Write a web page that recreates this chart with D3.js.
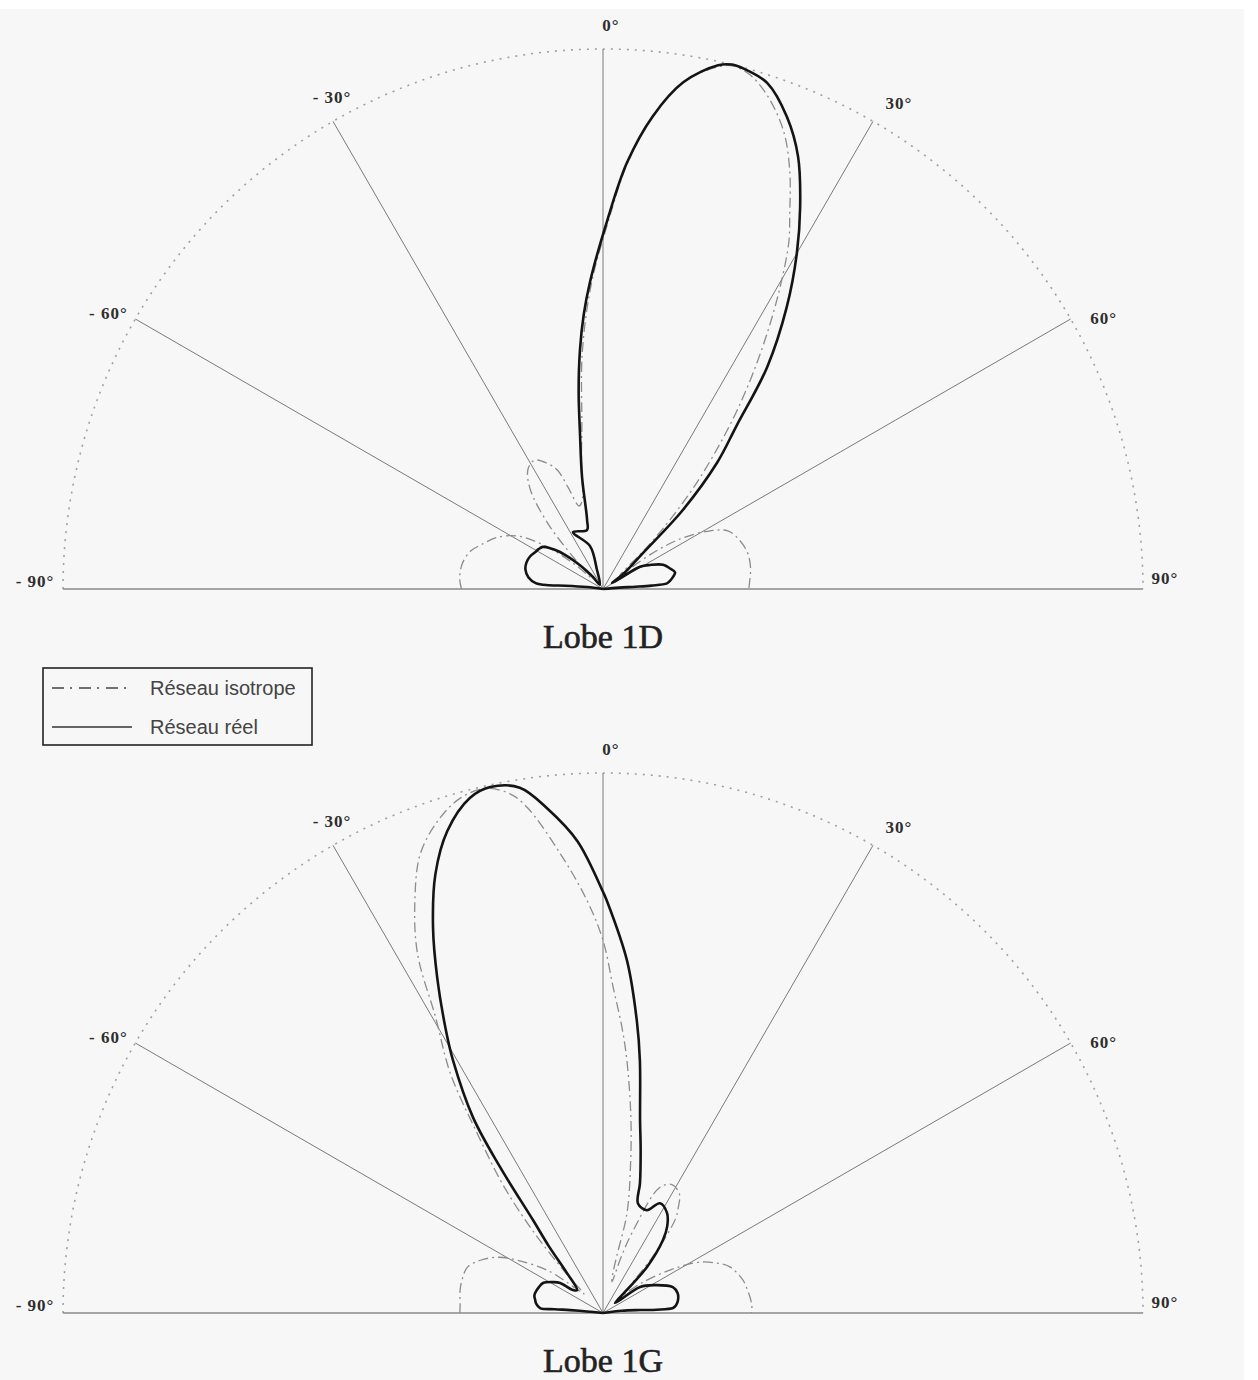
<!DOCTYPE html>
<html>
<head>
<meta charset="utf-8">
<script src="https://cdn.jsdelivr.net/npm/d3@7"></script>
<style>
  body { margin: 0; background: #ffffff; }
  svg { display: block; }
</style>
</head>
<body>
<svg id="chart" width="1258" height="1380"></svg>
<script>
// Angular grid (degrees, 0 = broadside, positive to the right)
const angleTicks = [-90, -60, -30, 0, 30, 60, 90];
const tickLabels = ["- 90°", "- 60°", "- 30°", "0°", "30°", "60°", "90°"];

const panelTitles = ["Lobe 1D", "Lobe 1G"];
const seriesNames = ["Réseau isotrope", "Réseau réel"];

// Normalised radiation patterns: [angle in degrees, relative amplitude]
const lobe1D_isotrope = [
  [-90, 0.262], [-86, 0.266], [-80, 0.265], [-74, 0.255], [-70, 0.24], [-64, 0.218],
  [-58, 0.185], [-53, 0.13], [-49, 0.07], [-46, 0.03], [-43, 0.08], [-40, 0.16],
  [-36, 0.23], [-32, 0.262], [-28, 0.27], [-24, 0.255], [-21, 0.236], [-19, 0.2],
  [-16, 0.16], [-13, 0.17], [-10, 0.23], [-7.5, 0.3], [-5, 0.44], [-2.2, 0.565],
  [0.8, 0.68], [3.3, 0.79], [6, 0.88], [9, 0.95], [12.4, 0.99], [14, 0.998],
  [16, 0.99], [18.5, 0.962], [21.5, 0.912], [24, 0.85], [26.5, 0.775], [28.2, 0.728],
  [30.4, 0.648], [32.5, 0.57], [34.8, 0.487], [37, 0.41], [39, 0.34], [41.5, 0.26],
  [44, 0.18], [46.5, 0.11], [49, 0.05], [51, 0.04], [54, 0.11], [57, 0.17],
  [61, 0.22], [65, 0.255], [70, 0.268], [76, 0.276], [82, 0.276], [87, 0.272], [90, 0.27]
];

const lobe1D_reel = [
  [-80, 0], [-83, 0.03], [-85, 0.07], [-86, 0.1], [-85, 0.125], [-81, 0.14],
  [-76, 0.148], [-71, 0.15], [-66, 0.148], [-61.5, 0.143], [-58, 0.14], [-55, 0.136],
  [-52, 0.122], [-49.3, 0.105], [-47, 0.085], [-45, 0.068], [-42, 0.045], [-40, 0.029],
  [-36, 0.01], [-17.5, 0.037], [-16.8, 0.083], [-27.8, 0.119], [-15.2, 0.113],
  [-13, 0.131], [-10.6, 0.211], [-8.4, 0.292], [-7, 0.37], [-5.5, 0.445], [-4, 0.51],
  [-2.4, 0.57], [0.6, 0.68], [3.2, 0.79], [6, 0.88], [9, 0.95], [12.4, 0.993],
  [13.8, 1.0], [15.2, 0.998], [18, 0.985], [21.3, 0.938], [24.3, 0.878], [27.3, 0.796],
  [30, 0.718], [33.1, 0.623], [36.5, 0.511], [39.3, 0.39], [42.1, 0.315], [45.3, 0.208],
  [48, 0.1], [53, 0.05], [56, 0.02], [58, 0.04], [59, 0.08], [63, 0.098], [68, 0.12],
  [73, 0.13], [77, 0.137], [80, 0.132], [83, 0.125], [85, 0.119], [86, 0.09],
  [86, 0.06], [85, 0.03], [83, 0]
];

const lobe1G_isotrope = [
  [-90, 0.265], [-87, 0.265], [-81, 0.268], [-76, 0.268], [-71.3, 0.265], [-66.7, 0.247],
  [-62, 0.22], [-58.4, 0.187], [-52.5, 0.13], [-48, 0.07], [-45, 0.05], [-43, 0.1],
  [-40.5, 0.2], [-38, 0.3], [-35, 0.406], [-32.5, 0.526], [-29.5, 0.63], [-27.3, 0.749],
  [-24.5, 0.84], [-21.7, 0.915], [-18.5, 0.962], [-15.4, 0.99], [-12.5, 0.995],
  [-10.1, 0.976], [-8.5, 0.946], [-5.3, 0.854], [-2.2, 0.764], [0, 0.69], [1.8, 0.603],
  [3.8, 0.53], [5.4, 0.47], [8, 0.37], [10.5, 0.28], [13.5, 0.19], [13.6, 0.11],
  [14, 0.076], [16, 0.06], [18, 0.11], [20, 0.16], [24.3, 0.255], [28.3, 0.27],
  [32.7, 0.262], [35.5, 0.24], [37.6, 0.22], [41, 0.15], [44, 0.08], [47, 0.05],
  [52, 0.09], [57.3, 0.147], [62, 0.2], [66.3, 0.23], [70, 0.25], [76.7, 0.266],
  [82, 0.272], [87, 0.276], [90, 0.275]
];

const lobe1G_reel = [
  [-83, 0], [-84.5, 0.03], [-85, 0.061], [-85.5, 0.09], [-85.5, 0.117], [-82, 0.125],
  [-79, 0.128], [-76, 0.131], [-73.6, 0.131], [-68, 0.128], [-63.4, 0.124], [-58, 0.108],
  [-55, 0.097], [-52.5, 0.07], [-48.5, 0.064], [-42, 0.1], [-39, 0.16], [-37, 0.215],
  [-35.2, 0.33], [-33.6, 0.435], [-30.7, 0.544], [-28.9, 0.604], [-26.3, 0.693],
  [-23.8, 0.78], [-20.9, 0.87], [-17.9, 0.938], [-14.5, 0.985], [-12.1, 0.996],
  [-9, 0.985], [-6.3, 0.94], [-3.1, 0.875], [0, 0.78], [0.55, 0.763], [3.9, 0.654],
  [6.6, 0.545], [8.3, 0.473], [10.9, 0.363], [13, 0.31], [15.9, 0.25], [17.7, 0.213],
  [23.1, 0.207], [27.4, 0.229], [32.6, 0.22], [36.5, 0.2], [39.4, 0.175], [43.7, 0.118],
  [46, 0.061], [50, 0.029], [52.6, 0.04], [54.9, 0.084], [61.7, 0.109], [69.6, 0.138],
  [75, 0.143], [80.2, 0.141], [84, 0.136], [85.9, 0.13], [86.5, 0.1], [85.4, 0.069],
  [83, 0.035], [80, 0]
];

// ---- layout ----
const W = 1258, H = 1380, R = 540;
const panels = [
  { cx: 603, cy: 589,  title: panelTitles[0], iso: lobe1D_isotrope, reel: lobe1D_reel },
  { cx: 603, cy: 1313, title: panelTitles[1], iso: lobe1G_isotrope, reel: lobe1G_reel }
];
// label placement relative to the end of each radial line
const labelNudge = [[-28, -8], [-27, -6], [-1, -24], [8, -24], [26, -18], [33, -1], [22, -11]];

const svg = d3.select("#chart");

// paper background
svg.append("rect").attr("x", 0).attr("y", 0).attr("width", W).attr("height", H).attr("fill", "#ffffff");
svg.append("rect").attr("x", 0).attr("y", 9).attr("width", 1244).attr("height", H - 9).attr("fill", "#f7f7f7");

const rScale = d3.scaleLinear().domain([0, 1]).range([0, R]);
const toRad = d => d * Math.PI / 180;
const radialLine = d3.lineRadial()
  .angle(d => toRad(d[0]))
  .radius(d => rScale(d[1]))
  .curve(d3.curveCatmullRom.alpha(0.5));

panels.forEach(p => {
  const g = svg.append("g").attr("transform", `translate(${p.cx},${p.cy})`);

  // dotted outer half circle
  const arcPath = d3.path();
  arcPath.arc(0, 0, rScale(1), Math.PI, 2 * Math.PI);
  g.append("path")
    .attr("d", arcPath.toString())
    .attr("fill", "none")
    .attr("stroke", "#a0a0a0")
    .attr("stroke-width", 1.6)
    .attr("stroke-dasharray", "2,6");

  // radial lines
  angleTicks.filter(a => Math.abs(a) < 90).forEach(a => {
    g.append("line")
      .attr("x1", 0).attr("y1", 0)
      .attr("x2", rScale(1) * Math.sin(toRad(a)))
      .attr("y2", -rScale(1) * Math.cos(toRad(a)))
      .attr("stroke", "#7a7a7a")
      .attr("stroke-width", 1);
  });

  // baseline (-90° to 90°)
  g.append("line")
    .attr("x1", -rScale(1)).attr("y1", 0)
    .attr("x2", rScale(1)).attr("y2", 0)
    .attr("stroke", "#8a8a8a")
    .attr("stroke-width", 1.4);

  // angle labels
  angleTicks.forEach((a, i) => {
    const x = rScale(1) * Math.sin(toRad(a)) + labelNudge[i][0];
    const y = -rScale(1) * Math.cos(toRad(a)) + labelNudge[i][1];
    g.append("text")
      .attr("x", x).attr("y", y)
      .attr("text-anchor", "middle")
      .attr("dominant-baseline", "central")
      .attr("font-family", "'Liberation Serif', 'DejaVu Serif', serif")
      .attr("font-weight", "bold")
      .attr("font-size", 17)
      .attr("letter-spacing", 1)
      .attr("fill", "#2e2e2e")
      .text(tickLabels[i]);
  });

  // isotropic array pattern (dash-dot)
  g.append("path")
    .attr("d", radialLine(p.iso))
    .attr("fill", "none")
    .attr("stroke", "#8c8c8c")
    .attr("stroke-width", 1.3)
    .attr("stroke-dasharray", "10,4,2,4");

  // real array pattern (solid)
  g.append("path")
    .attr("d", radialLine(p.reel))
    .attr("fill", "none")
    .attr("stroke", "#141414")
    .attr("stroke-width", 2.6)
    .attr("stroke-linejoin", "round");

  // panel title
  svg.append("text")
    .attr("x", p.cx)
    .attr("y", p.cy + 59)
    .attr("text-anchor", "middle")
    .attr("font-family", "'Liberation Serif', 'DejaVu Serif', serif")
    .attr("font-size", 34)
    .attr("fill", "#222")
    .attr("stroke", "#222")
    .attr("stroke-width", 0.6)
    .text(p.title);
});

// legend
const lg = svg.append("g");
lg.append("rect")
  .attr("x", 43).attr("y", 668).attr("width", 269).attr("height", 77)
  .attr("fill", "none").attr("stroke", "#222").attr("stroke-width", 1.6);
const legendRows = [
  { y: 688, dash: "12,6,2,7", color: "#444", w: 1.5 },
  { y: 727, dash: null, color: "#333", w: 1.5 }
];
legendRows.forEach((r, i) => {
  const l = lg.append("line")
    .attr("x1", 52).attr("x2", 132).attr("y1", r.y).attr("y2", r.y)
    .attr("stroke", r.color).attr("stroke-width", r.w);
  if (r.dash) l.attr("stroke-dasharray", r.dash);
  lg.append("text")
    .attr("x", 150).attr("y", r.y)
    .attr("dominant-baseline", "central")
    .attr("font-family", "'Liberation Sans', Arial, sans-serif")
    .attr("font-size", 20)
    .attr("fill", "#444")
    .text(seriesNames[i]);
});
</script>
</body>
</html>
